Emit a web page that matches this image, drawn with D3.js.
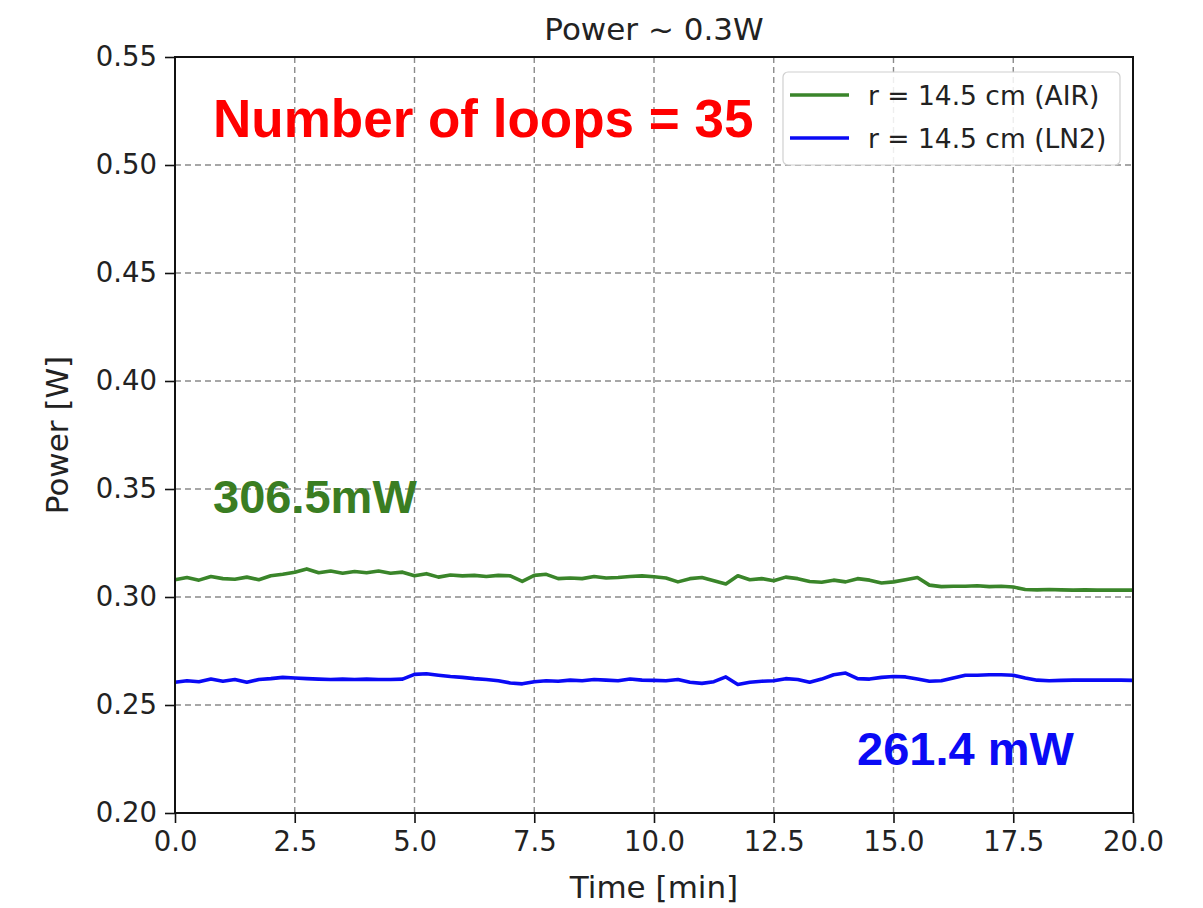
<!DOCTYPE html>
<html><head><meta charset="utf-8">
<script src="https://cdn.jsdelivr.net/npm/d3@7"></script>
<style>body{margin:0;background:#fff}svg{display:block}</style>
</head><body>
<svg id="c" width="1203" height="908"></svg>
<script>
const xTicks = [0,2.5,5,7.5,10,12.5,15,17.5,20];
const yTicks = [0.20,0.25,0.30,0.35,0.40,0.45,0.50,0.55];
const time = [0,0.25,0.5,0.75,1,1.25,1.5,1.75,2,2.25,2.5,2.75,3,3.25,3.5,3.75,4,4.25,4.5,4.75,5,5.25,5.5,5.75,6,6.25,6.5,6.75,7,7.25,7.5,7.75,8,8.25,8.5,8.75,9,9.25,9.5,9.75,10,10.25,10.5,10.75,11,11.25,11.5,11.75,12,12.25,12.5,12.75,13,13.25,13.5,13.75,14,14.25,14.5,14.75,15,15.25,15.5,15.75,16,16.25,16.5,16.75,17,17.25,17.5,17.75,18,18.25,18.5,18.75,19,19.25,19.5,19.75,20];
const air = [0.3080,0.3090,0.3078,0.3095,0.3085,0.3082,0.3092,0.3080,0.3098,0.3105,0.3115,0.3130,0.3112,0.3120,0.3110,0.3118,0.3112,0.3120,0.3110,0.3115,0.3098,0.3108,0.3092,0.3102,0.3098,0.3100,0.3095,0.3100,0.3098,0.3072,0.3100,0.3105,0.3085,0.3088,0.3085,0.3095,0.3088,0.3090,0.3095,0.3098,0.3094,0.3088,0.3070,0.3085,0.3090,0.3075,0.3060,0.3098,0.3080,0.3085,0.3075,0.3092,0.3085,0.3072,0.3068,0.3078,0.3070,0.3085,0.3078,0.3065,0.3070,0.3080,0.3090,0.3055,0.3048,0.3050,0.3050,0.3052,0.3048,0.3050,0.3046,0.3035,0.3033,0.3035,0.3033,0.3032,0.3033,0.3032,0.3032,0.3032,0.3032];
const ln2 = [0.2605,0.2612,0.2608,0.2620,0.2610,0.2618,0.2605,0.2618,0.2622,0.2628,0.2625,0.2622,0.2620,0.2618,0.2620,0.2618,0.2620,0.2618,0.2618,0.2620,0.2642,0.2645,0.2638,0.2632,0.2628,0.2622,0.2618,0.2612,0.2602,0.2598,0.2608,0.2612,0.2610,0.2615,0.2612,0.2618,0.2615,0.2612,0.2620,0.2615,0.2614,0.2612,0.2618,0.2605,0.2600,0.2608,0.2630,0.2595,0.2605,0.2610,0.2612,0.2622,0.2618,0.2605,0.2620,0.2640,0.2648,0.2622,0.2620,0.2628,0.2632,0.2630,0.2620,0.2610,0.2612,0.2625,0.2638,0.2638,0.2640,0.2640,0.2638,0.2625,0.2615,0.2612,0.2614,0.2615,0.2616,0.2615,0.2616,0.2615,0.2614];
const seriesNames = ["r = 14.5 cm (AIR)","r = 14.5 cm (LN2)"];
const seriesColors = ["#3a852a","#0a0af5"];

const svg = d3.select("#c");
const L=175,R=1133,T=57,B=813;
const x = d3.scaleLinear().domain([0,20]).range([L,R]);
const y = d3.scaleLinear().domain([0.20,0.55]).range([B,T]);
const font = "DejaVu Sans, sans-serif";

// grid
const g = svg.append("g");
g.selectAll(".vg").data(xTicks).enter().append("line")
  .attr("x1",d=>x(d)).attr("x2",d=>x(d)).attr("y1",T).attr("y2",B)
  .attr("stroke","#8a8a8a").attr("stroke-width",1.4).attr("stroke-dasharray","6,4");
g.selectAll(".hg").data(yTicks).enter().append("line")
  .attr("x1",L).attr("x2",R).attr("y1",d=>y(d)).attr("y2",d=>y(d))
  .attr("stroke","#8a8a8a").attr("stroke-width",1.4).attr("stroke-dasharray","6,4");

// lines
const line = d3.line().x((d,i)=>x(time[i])).y(d=>y(d));
[air,ln2].forEach((s,k)=>{
  svg.append("path").datum(s).attr("d",line).attr("fill","none")
    .attr("stroke",seriesColors[k]).attr("stroke-width",3.6).attr("stroke-linejoin","round");
});

// axes
const xa = svg.append("g").attr("transform",`translate(0,${B})`)
  .call(d3.axisBottom(x).tickValues(xTicks).tickFormat(d3.format(".1f")).tickSize(10).tickPadding(5));
const ya = svg.append("g").attr("transform",`translate(${L},0)`)
  .call(d3.axisLeft(y).tickValues(yTicks).tickFormat(d3.format(".2f")).tickSize(10).tickPadding(8));
[xa,ya].forEach(a=>{
  a.select(".domain").remove();
  a.selectAll("line").attr("stroke","#111").attr("stroke-width",1.6);
  a.selectAll("text").attr("font-family",font).attr("font-size",27.5).attr("fill","#222");
});
xa.selectAll("text").attr("dy","0.85em");
svg.append("rect").attr("x",L).attr("y",T).attr("width",R-L).attr("height",B-T)
  .attr("fill","none").attr("stroke","#111").attr("stroke-width",2);

// titles
svg.append("text").attr("x",(L+R)/2).attr("y",40).attr("text-anchor","middle")
  .attr("font-family",font).attr("font-size",31).attr("fill","#222").text("Power ~ 0.3W");
svg.append("text").attr("x",(L+R)/2).attr("y",898).attr("text-anchor","middle")
  .attr("font-family",font).attr("font-size",31).attr("fill","#222").text("Time [min]");
svg.append("text").attr("transform",`translate(68,${(T+B)/2}) rotate(-90)`).attr("text-anchor","middle")
  .attr("font-family",font).attr("font-size",31).attr("fill","#222").text("Power [W]");

// legend
const lg = svg.append("g");
lg.append("rect").attr("x",783).attr("y",72).attr("width",337).attr("height",93).attr("rx",5)
  .attr("fill","#fff").attr("fill-opacity",0.85).attr("stroke","#d0d0d0").attr("stroke-width",1.2);
seriesNames.forEach((n,k)=>{
  const yy = 95 + k*43;
  lg.append("line").attr("x1",790).attr("x2",849).attr("y1",yy).attr("y2",yy)
    .attr("stroke",seriesColors[k]).attr("stroke-width",3.6);
  lg.append("text").attr("x",868).attr("y",yy).attr("dy","0.36em")
    .attr("font-family",font).attr("font-size",26.5).attr("fill","#222").text(n);
});

// annotations
const bold = "Liberation Sans, Arial, sans-serif";
svg.append("text").attr("x",213).attr("y",137).attr("font-family",bold).attr("font-weight","bold")
  .attr("font-size",53).attr("fill","#ff0000").text("Number of loops = 35");
svg.append("text").attr("x",213).attr("y",513).attr("font-family",bold).attr("font-weight","bold")
  .attr("font-size",47).attr("fill","#3a7d22").text("306.5mW");
svg.append("text").attr("x",857).attr("y",765).attr("font-family",bold).attr("font-weight","bold")
  .attr("font-size",47).attr("fill","#0a0af5").text("261.4 mW");
</script>
</body></html>
